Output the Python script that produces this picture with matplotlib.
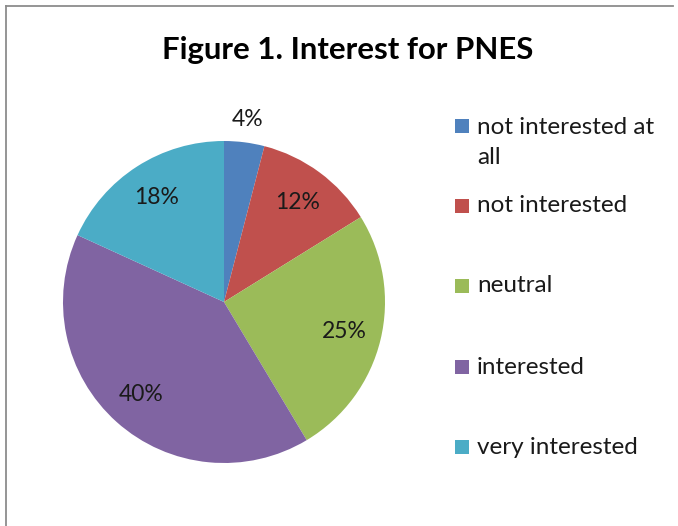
import matplotlib
matplotlib.use("Agg")
import matplotlib.pyplot as plt
from matplotlib.patches import Rectangle
from matplotlib.lines import Line2D
import numpy as np

categories = ["not interested at\nall", "not interested", "neutral", "interested", "very interested"]
values = [4, 12, 25, 40, 18]
colors = ["#4F81BD", "#C0504D", "#9BBB59", "#8064A2", "#4BACC6"]
title = "Figure 1. Interest for PNES"

plt.rcParams['font.family'] = ['Lato', 'DejaVu Sans']

W, H = 678, 526
fig = plt.figure(figsize=(W / 100, H / 100), dpi=100)

# border (left and top visible)
fig.lines.append(Line2D([5.5 / W, 5.5 / W], [0, 1 - 5.5 / H], transform=fig.transFigure,
                        color="#8c8c8c", linewidth=1.3))
fig.lines.append(Line2D([5.5 / W, 673 / W], [1 - 5.5 / H, 1 - 5.5 / H], transform=fig.transFigure,
                        color="#8c8c8c", linewidth=1.3))

cx, cy, r = 224, 302, 161
ax = fig.add_axes([(cx - r) / W, (H - cy - r) / H, 2 * r / W, 2 * r / H])
wedges, texts, autotexts = ax.pie(values, colors=colors, startangle=90, counterclock=False,
                                  autopct=lambda p: f"{p:.0f}%", pctdistance=0.77,
                                  textprops=dict(fontsize=16.5, color="#1a1a1a"),
                                  wedgeprops=dict(linewidth=0))
ax.set_xlim(-1, 1)
ax.set_ylim(-1, 1)
ax.set_aspect('equal')
for w in wedges:
    w.set_clip_on(False)
# small slice label outside (best-fit style)
ang = np.deg2rad(90 - 360 * values[0] / sum(values) / 2)
autotexts[0].set_position((1.14 * np.cos(ang), 1.14 * np.sin(ang)))

fig.text(348 / W, 1 - 50 / H, title, ha='center', va='center', fontsize=22.4, fontweight='bold')

# legend
marker_y = [125.5, 205.5, 286, 367, 447]
for i, (lab, col) in enumerate(zip(categories, colors)):
    y = marker_y[i]
    fig.patches.append(Rectangle((455 / W, 1 - (y + 7) / H), 14 / W, 14 / H,
                                 transform=fig.transFigure, facecolor=col, edgecolor='none'))
    if i == 0:
        fig.text(477 / W, 1 - (y - 9) / H, lab, ha='left', va='top', fontsize=17.5,
                 linespacing=1.58, color="#1a1a1a")
    else:
        fig.text(477 / W, 1 - y / H, lab, ha='left', va='center', fontsize=17.5, color="#1a1a1a")

fig.savefig("out.png", dpi=100)
